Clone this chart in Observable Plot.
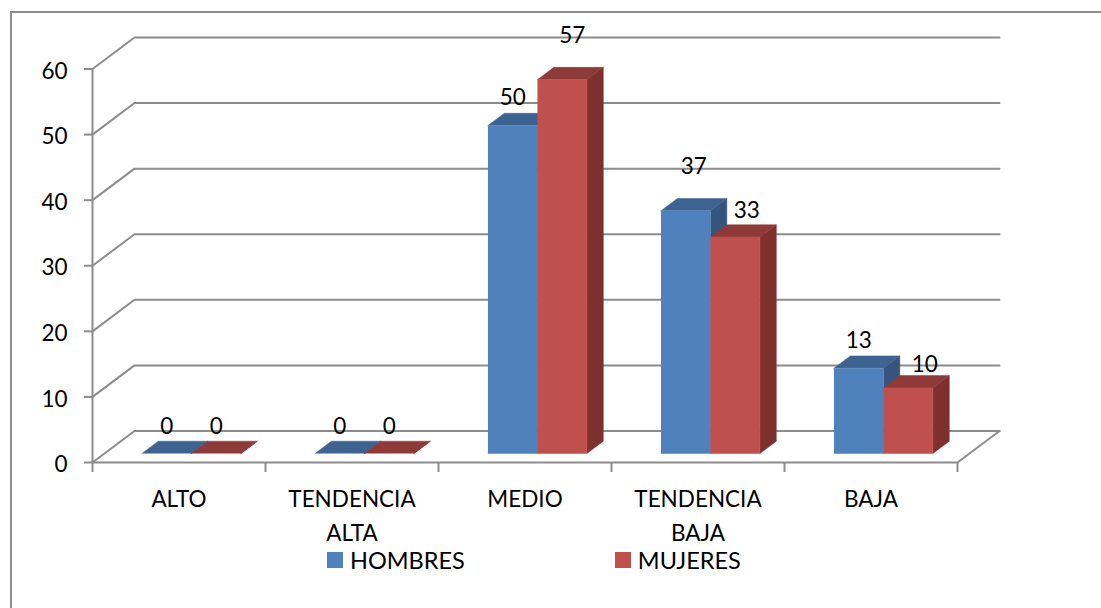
<!DOCTYPE html>
<html lang="es">
<head>
<meta charset="utf-8">
<script src="https://cdn.jsdelivr.net/npm/d3@7"></script>
<script src="https://cdn.jsdelivr.net/npm/@observablehq/plot@0.6"></script>
<style>
  html, body { margin: 0; padding: 0; background: #fff; overflow: hidden; }
  body::before {
    content: ""; position: absolute; left: 10px; top: 10.5px; right: 0; bottom: 0;
    border-left: 2px solid #8c8c8c; border-top: 2px solid #8c8c8c; pointer-events: none;
  }
  #chart { font-family: Lato, sans-serif; }
  .lg-swatches { margin: 0 !important; min-height: 0 !important; height: 30px; font-family: Lato, sans-serif !important; font-size: 23.5px !important; color: #000 !important; padding-left: 327px; align-items: center; display: flex; flex-wrap: nowrap; }
  .lg-swatch { margin: 0 150px 0 0 !important; display: inline-flex; align-items: center; }
  .lg-swatch svg { margin-right: 7px !important; }
</style>
</head>
<body>
<div id="chart"></div>
<script>
const categories = ["ALTO", "TENDENCIA\nALTA", "MEDIO", "TENDENCIA\nBAJA", "BAJA"];
const seriesNames = ["HOMBRES", "MUJERES"];
const hombres = [0, 0, 50, 37, 13];
const mujeres = [0, 0, 57, 33, 10];
const yTicks = [0, 10, 20, 30, 40, 50, 60];

// Colours: front, top and side face of each series
const faceColors = {
  HOMBRES: { front: "#4F81BD", top: "#3E6391", side: "#35557F" },
  MUJERES: { front: "#C0504D", top: "#8E3A38", side: "#7D302E" }
};

// Oblique projection: a depth z in [0, 1] shifts a point right and up, in data units
const depthX = 42 / 173, depthY = 31.5 / 6.55;
const P = (c, v, z) => ({ x: c + z * depthX, y: v + z * depthY });

// Bar box inside a category cell (category units and depth units)
const barStart = 0.2165, barWidth = 0.286, zFront = 0.286, zBack = 0.676;

const polys = [];
const addFace = (id, fill, pts) => pts.forEach(p => polys.push({ id, fill, ...p }));
categories.forEach((_, i) => {
  [hombres, mujeres].forEach((vals, s) => {
    const name = seriesNames[s], col = faceColors[name], v = vals[i];
    const a = i + barStart + s * barWidth, b = a + barWidth, k = `${i}-${s}`;
    addFace(k + "side", col.side, [P(b, 0, zFront), P(b, 0, zBack), P(b, v, zBack), P(b, v, zFront)]);
    addFace(k + "top", col.top, [P(a, v, zFront), P(a, v, zBack), P(b, v, zBack), P(b, v, zFront)]);
    if (v > 0) addFace(k + "front", col.front, [P(a, 0, zFront), P(b, 0, zFront), P(b, v, zFront), P(a, v, zFront)]);
  });
});

// Wall gridlines and floor outline
const grid = yTicks.flatMap(v => [P(0, v, 0), P(0, v, 1), P(5, v, 1)].map(p => ({ id: v, ...p })));
const floor = [P(0, 0, 0), P(5, 0, 0), P(5, 0, 1)];

// Label nudges as placed in the original chart (right, up from the bar's front top; pixels)
const nudges = [
  [[0, 27], [0, 27], [0, 28], [8, 44], [0, 27]],
  [[0, 27], [0, 27], [10, 44], [11.5, 26], [16.5, 23]]
];
const labels = [hombres, mujeres].flatMap((vals, s) => vals.map((v, i) => {
  const c = P(i + barStart + (s + 0.5) * barWidth, v, zFront);
  return { text: String(v), x: c.x + nudges[s][i][0] / 173, y: c.y + nudges[s][i][1] / 6.55 };
}));

const gray = "#8c8c8c", font = "Lato, sans-serif", size = 22.5;

const plot = Plot.plot({
  width: 1101, height: 545,
  marginLeft: 92, marginRight: 144, marginTop: 68.5, marginBottom: 83,
  style: { background: "transparent", overflow: "visible" },
  x: { domain: [0, 5] },
  y: { domain: [0, 60] },
  color: { type: "identity" },
  marks: [
    Plot.line(grid, { x: "x", y: "y", z: "id", stroke: gray, strokeWidth: 2, curve: "linear" }),
    Plot.line(floor, { x: "x", y: "y", stroke: gray, strokeWidth: 2, curve: "linear" }),
    Plot.ruleX([0], { y1: 0, y2: 60, stroke: gray, strokeWidth: 2, strokeOpacity: 1 }),
    Plot.axisY({ ticks: yTicks, tickSize: 8, stroke: gray, strokeWidth: 2, tickFormat: () => "", label: null }),
    Plot.text(yTicks, { x: 0, y: d => d, text: d => String(d), textAnchor: "end", dx: -25, dy: 2.5, fontSize: size, fontFamily: font, fill: "#000" }),
    Plot.axisX({ ticks: [0, 1, 2, 3, 4, 5], tickSize: 10, stroke: gray, strokeWidth: 2, tickFormat: () => "", label: null }),
    Plot.line(polys, { x: "x", y: "y", z: "id", fill: "fill", stroke: "fill", strokeWidth: 0.5, curve: "linear" }),
    Plot.text(categories, {
      x: (_, i) => i + 0.5, text: d => d, frameAnchor: "bottom", lineAnchor: "top",
      dy: 21.5, lineHeight: 1.47, fontSize: size, fontFamily: font, fill: "#000"
    }),
    Plot.text(labels, { x: "x", y: "y", text: "text", fontSize: size, fontFamily: font, fill: "#000" })
  ]
});
document.getElementById("chart").append(plot);

const legend = Plot.legend({
  color: { domain: seriesNames, range: [faceColors.HOMBRES.front, faceColors.MUJERES.front] },
  swatchSize: 16, className: "lg"
});
document.getElementById("chart").append(legend);
</script>
</body>
</html>
